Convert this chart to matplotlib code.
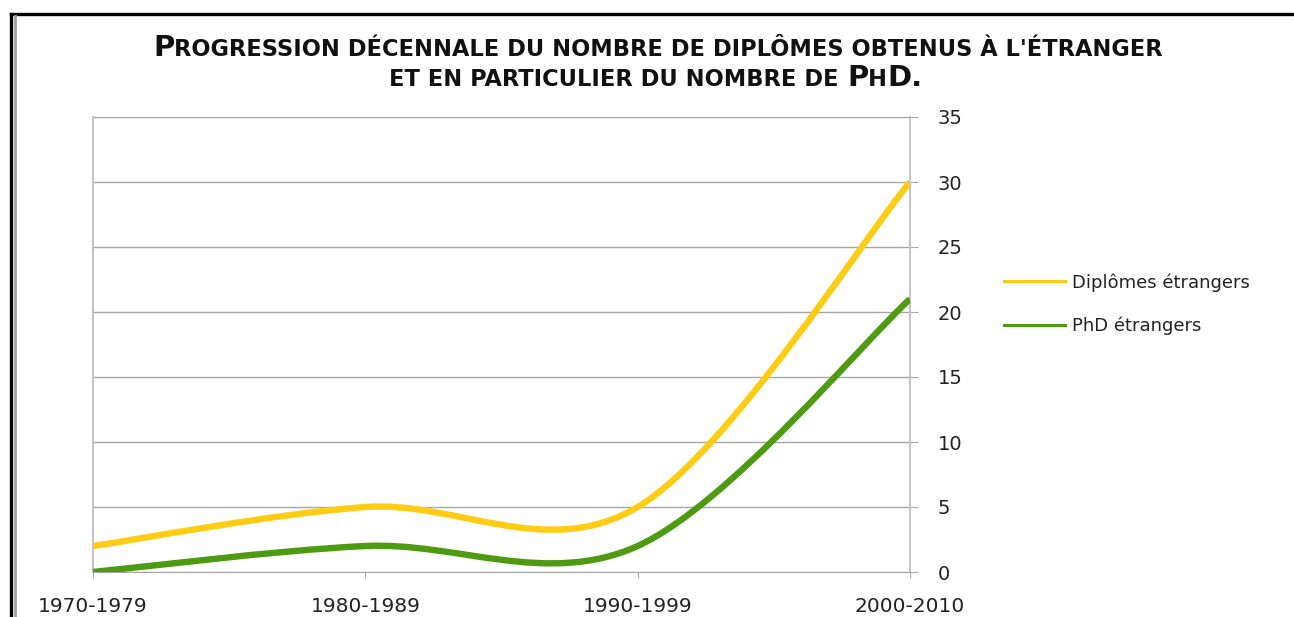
import numpy as np
import matplotlib
matplotlib.use("Agg")
import matplotlib.pyplot as plt
from matplotlib.path import Path
from matplotlib.patches import PathPatch
from matplotlib.lines import Line2D

# donnees
decennies = ["1970-1979", "1980-1989", "1990-1999", "2000-2010"]
diplomes = [2, 5, 5, 30]
phd = [0, 2, 2, 21]
noms = ["Diplômes étrangers", "PhD étrangers"]
couleurs = ["#FFCC14", "#4E9A10"]
yticks = [0, 5, 10, 15, 20, 25, 30, 35]

# titre en petites capitales : (texte, grand?)
titre1 = [("P", True), ("ROGRESSION DÉCENNALE DU NOMBRE DE DIPLÔMES OBTENUS À L'ÉTRANGER", False)]
titre2 = [("ET EN PARTICULIER DU NOMBRE DE ", False), ("P", True), ("H", False), ("D.", True)]

W, H = 1294, 617
fig = plt.figure(figsize=(W / 100, H / 100), dpi=100)
fig.patch.set_facecolor("white")

ax = fig.add_axes([93 / W, 1 - 572 / H, (910 - 93) / W, (572 - 117) / H])


def courbe_lisse(x, y):
    # lissage type Excel (Catmull-Rom en Bezier)
    pts = np.column_stack([x, y]).astype(float)
    n = len(pts)
    verts = [pts[0]]
    codes = [Path.MOVETO]
    for i in range(n - 1):
        p0 = pts[max(i - 1, 0)]
        p1 = pts[i]
        p2 = pts[i + 1]
        p3 = pts[min(i + 2, n - 1)]
        c1 = p1 + (p2 - p0) / 6
        c2 = p2 - (p3 - p1) / 6
        verts += [c1, c2, p2]
        codes += [Path.CURVE4] * 3
    return Path(verts, codes)


x = np.arange(len(decennies))
for serie, c in zip([diplomes, phd], couleurs):
    patch = PathPatch(courbe_lisse(x, serie), facecolor="none", edgecolor=c,
                      lw=4.6, capstyle="butt", joinstyle="round", zorder=3)
    ax.add_patch(patch)

ax.set_xlim(0, len(decennies) - 1)
ax.set_ylim(0, 35)
ax.set_xticks(x)
ax.set_xticklabels(decennies)
ax.set_yticks(yticks)
ax.yaxis.tick_right()
ax.grid(axis="y", color="#A6A6A6", lw=1)
ax.set_axisbelow(True)
ax.spines["top"].set_visible(False)
for s in ["left", "right"]:
    ax.spines[s].set_color("#C4C4C4")
    ax.spines[s].set_linewidth(1.5)
ax.spines["bottom"].set_color("#A6A6A6")
ax.tick_params(axis="y", length=6, color="#A6A6A6", pad=14, labelsize=14,
               labelcolor="#222222")
ax.tick_params(axis="x", length=4, color="#A6A6A6", pad=14, labelsize=14.5,
               labelcolor="#222222")
for t in ax.get_yticklabels() + ax.get_xticklabels():
    t.set_family("DejaVu Sans")

# legende
handles = [Line2D([], [], color=c, lw=2.2) for c in couleurs]
fig.legend(handles, noms, loc="upper left",
           bbox_to_anchor=(1004 / W, 1 - 273 / H), frameon=False,
           fontsize=13, handlelength=3.4, handletextpad=0.35,
           labelspacing=1.4, borderpad=0, borderaxespad=0,
           labelcolor="#222222")

# cadre
fig.add_artist(Line2D([11 / W, 1], [1 - 14 / H, 1 - 14 / H], color="black", lw=2.4,
                      transform=fig.transFigure))
fig.add_artist(Line2D([11 / W, 11 / W], [0, 1 - 14 / H], color="black", lw=2.4,
                      transform=fig.transFigure))
fig.add_artist(Line2D([14.5 / W, 14.5 / W], [0, 1 - 16 / H], color="#A0A0A0", lw=2,
                      transform=fig.transFigure))

r = fig.canvas.get_renderer()


def petites_capitales(morceaux, base, grand, petit):
    objs = []
    for txt, g in morceaux:
        t = fig.text(0, base / H, txt, fontsize=grand if g else petit,
                     fontweight="bold", family="DejaVu Sans", color="#111111",
                     ha="left", va="baseline", transform=fig.transFigure)
        objs.append(t)
    return objs


def placer(objs, cx):
    larg = [t.get_window_extent(r).width for t in objs]
    x0 = cx - sum(larg) / 2
    for t, w in zip(objs, larg):
        t.set_x(x0 / W)
        x0 += w
    return sum(larg)


# ajuste la taille pour retrouver la largeur du titre d'origine (~1007 px)
l1 = petites_capitales(titre1, H - 56, 17.5, 13.5)
l2 = petites_capitales(titre2, H - 86, 17.5, 13.5)
k = 1007 / placer(l1, 658)
for t in l1 + l2:
    t.set_fontsize(t.get_fontsize() * k)
placer(l1, 658)
placer(l2, 656)

fig.savefig("out.png", dpi=100)
